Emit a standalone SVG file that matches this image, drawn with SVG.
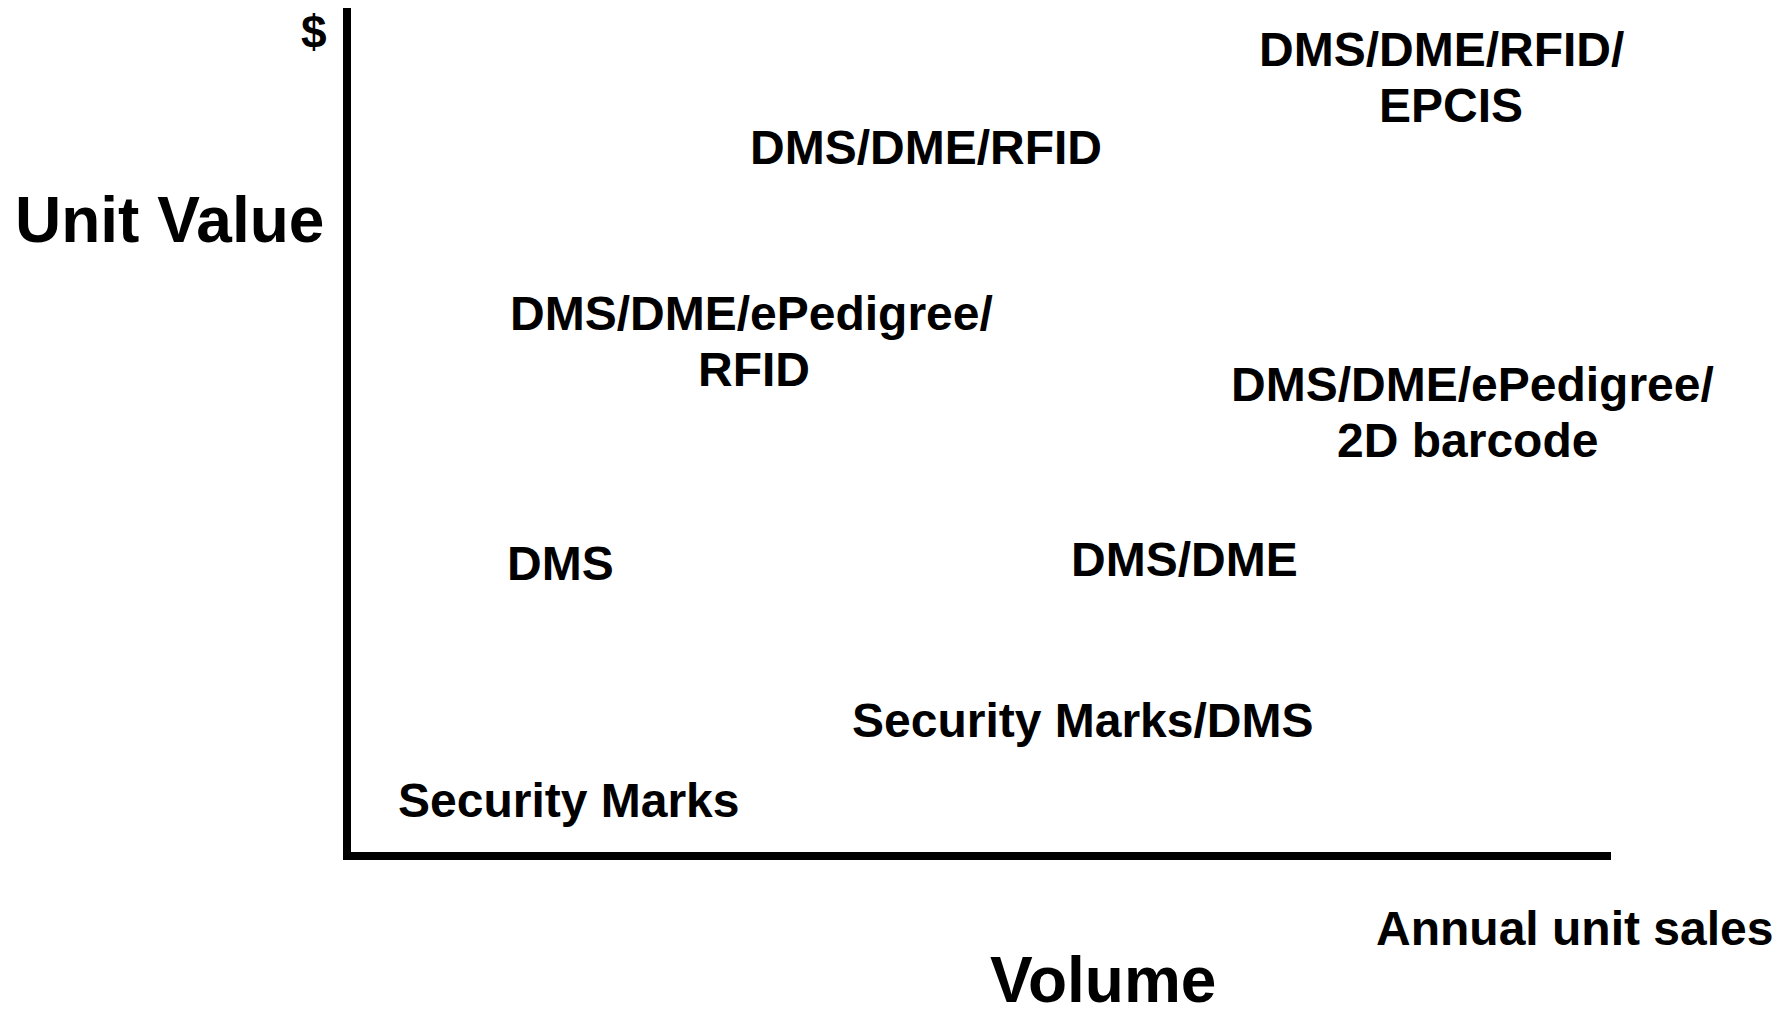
<svg xmlns="http://www.w3.org/2000/svg" width="1790" height="1011" viewBox="0 0 1790 1011">
<style>
text{font-family:"Liberation Sans",Arial,sans-serif;font-weight:bold;fill:#000}
.m{font-size:48px}
.l{font-size:64px}
.s{font-size:46px}
.ax{stroke:#000;stroke-width:8;fill:none}
</style>
<rect width="1790" height="1011" fill="#fff"/>
<g id="axes">
<line class="ax" x1="347" y1="8" x2="347" y2="860"/>
<line class="ax" x1="343" y1="856" x2="1611" y2="856"/>
</g>
<g id="axis-labels">
<text class="s" x="301" y="48">$</text>
<text class="l" x="15" y="242">Unit Value</text>
<text class="m" x="1376" y="945">Annual unit sales</text>
<text class="l" x="990" y="1002">Volume</text>
</g>
<g id="n1"><text class="m" x="1259" y="66">DMS/DME/RFID/</text><text class="m" x="1379" y="122">EPCIS</text></g>
<g id="n2"><text class="m" x="750" y="164">DMS/DME/RFID</text></g>
<g id="n3"><text class="m" x="510" y="330">DMS/DME/ePedigree/</text><text class="m" x="698" y="386">RFID</text></g>
<g id="n4"><text class="m" x="1231" y="401">DMS/DME/ePedigree/</text><text class="m" x="1337" y="457">2D barcode</text></g>
<g id="n5"><text class="m" x="507" y="580">DMS</text></g>
<g id="n6"><text class="m" x="1071" y="576">DMS/DME</text></g>
<g id="n7"><text class="m" x="852" y="737">Security Marks/DMS</text></g>
<g id="n8"><text class="m" x="398" y="817">Security Marks</text></g>
</svg>
